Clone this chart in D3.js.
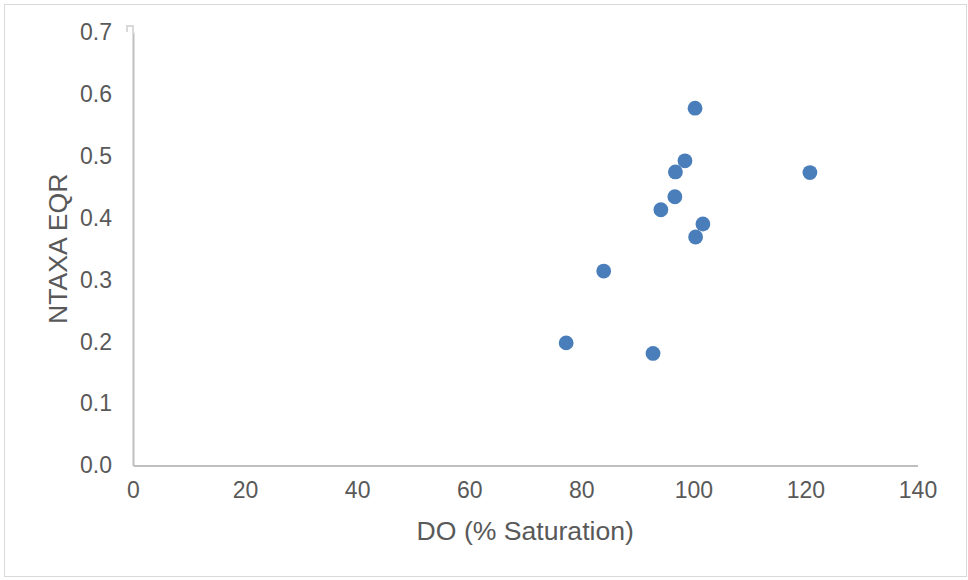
<!DOCTYPE html>
<html><head><meta charset="utf-8">
<script src="https://cdn.jsdelivr.net/npm/d3@7"></script>
<style>body{margin:0;background:#fff}svg{display:block}</style>
</head><body>
<script>
const doSat = [77.3, 84.0, 92.8, 94.2, 96.7, 96.8, 98.5, 100.3, 100.4, 101.7, 120.8];
const ntaxaEqr = [0.198, 0.314, 0.181, 0.413, 0.434, 0.474, 0.492, 0.577, 0.369, 0.390, 0.473];
const xTicks = [0, 20, 40, 60, 80, 100, 120, 140];
const yTicks = [0, 0.1, 0.2, 0.3, 0.4, 0.5, 0.6, 0.7];
const xTitle = "DO (% Saturation)";
const yTitle = "NTAXA EQR";

const W = 968, H = 580;
const svg = d3.select("body").append("svg").attr("width", W).attr("height", H);
svg.append("rect").attr("x", 4.5).attr("y", 4.5).attr("width", 962).attr("height", 572)
  .attr("fill", "#fff").attr("stroke", "#d9d9d9").attr("stroke-width", 1);

const x = d3.scaleLinear().domain([0, 140]).range([133, 917.5]);
const y = d3.scaleLinear().domain([0, 0.7]).range([465.5, 32]);
const font = "'Liberation Sans', Arial, sans-serif";

const xAxis = svg.append("g").attr("transform", `translate(0,${y(0)})`)
  .call(d3.axisBottom(x).tickValues(xTicks).tickSize(0).tickPadding(16).tickFormat(d3.format("d")));
xAxis.select(".domain").attr("stroke", "#bfbfbf").attr("stroke-width", 2);
xAxis.selectAll("text").attr("fill", "#595959").style("font-family", font).style("font-size", "23px");

const yAxis = svg.append("g").attr("transform", `translate(${x(0)},0)`)
  .call(d3.axisLeft(y).tickValues(yTicks).tickSize(0).tickPadding(21).tickFormat(d3.format(".1f")));
yAxis.select(".domain").attr("stroke", "#bfbfbf").attr("stroke-width", 2);
yAxis.selectAll("text").attr("fill", "#595959").style("font-family", font).style("font-size", "23px");

// small hook artifact at the top of the y axis
svg.append("path").attr("d", `M${x(0)},${y(0.7)+2} L${x(0)},${y(0.7)-6} L${x(0)-6},${y(0.7)-6} L${x(0)-6},${y(0.7)}`)
  .attr("fill", "none").attr("stroke", "#d9d9d9").attr("stroke-width", 2);

svg.append("g").selectAll("circle").data(doSat.map((d, i) => [d, ntaxaEqr[i]])).join("circle")
  .attr("cx", d => x(d[0])).attr("cy", d => y(d[1])).attr("r", 7.4)
  .attr("fill", "#4a7ebb");

svg.append("text").attr("x", (x(0) + x(140)) / 2).attr("y", 540).attr("text-anchor", "middle")
  .attr("fill", "#595959").style("font-family", font).style("font-size", "26.6px").text(xTitle);
svg.append("text").attr("transform", `translate(67,${(y(0)+y(0.7))/2}) rotate(-90)`).attr("text-anchor", "middle")
  .attr("fill", "#595959").style("font-family", font).style("font-size", "26.6px").text(yTitle);
</script>
</body></html>
